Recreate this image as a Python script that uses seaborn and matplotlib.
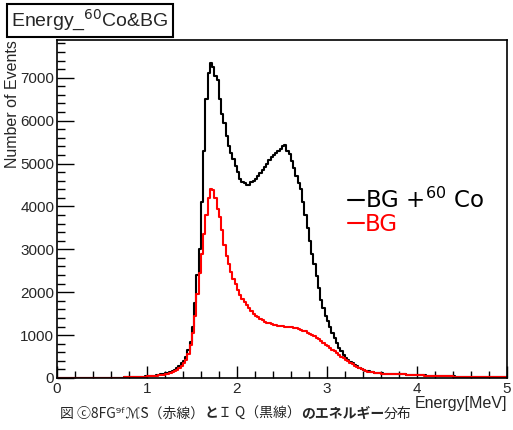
import numpy as np
import pandas as pd
import matplotlib
matplotlib.use("Agg")
import matplotlib.pyplot as plt
import seaborn as sns
from matplotlib.ticker import MultipleLocator

# 200 bins of 0.025 MeV from 0 to 5 MeV, one row = 0.25 MeV
bin_width = 0.025
energy = np.round(np.arange(0.0125, 5.0, bin_width), 4)

# BG + 60Co (black)
bg_co = [0, 0, 0, 1, 1, 1, 1, 2, 2, 2,
         2, 3, 3, 3, 3, 4, 4, 4, 5, 5,
         5, 5, 6, 6, 6, 7, 7, 7, 8, 8,
         13, 14, 16, 18, 20, 23, 26, 29, 32, 36,
         40, 44, 49, 55, 63, 72, 82, 94, 108, 125,
         145, 165, 190, 230, 280, 340, 400, 500, 650, 850,
         1200, 1750, 2400, 3000, 4100, 5300, 6500, 7100, 7350, 7250,
         7050, 6950, 6500, 6150, 5950, 5650, 5400, 5250, 5100, 4950,
         4800, 4650, 4580, 4550, 4500, 4510, 4560, 4600, 4650, 4700,
         4780, 4850, 4930, 5000, 5080, 5150, 5200, 5250, 5300, 5350,
         5400, 5440, 5300, 5220, 5050, 4900, 4700, 4550, 4400, 4100,
         3800, 3500, 3200, 2900, 2650, 2380, 2100, 1820, 1620, 1450,
         1330, 1180, 1050, 940, 820, 710, 620, 540, 470, 425,
         380, 340, 305, 272, 243, 216, 194, 173, 156, 143,
         132, 123, 116, 110, 106, 102, 99, 97, 94, 92,
         90, 88, 86, 84, 82, 80, 77, 74, 71, 68,
         65, 63, 60, 58, 55, 53, 51, 49, 47, 45,
         44, 42, 41, 39, 38, 36, 35, 34, 33, 32,
         32, 31, 30, 29, 28, 27, 26, 25, 24, 24,
         23, 22, 21, 21, 20, 19, 18, 18, 17, 16]

# BG only (red)
bg = [0, 0, 0, 1, 1, 1, 1, 2, 2, 2,
      2, 3, 3, 3, 3, 4, 4, 4, 5, 5,
      5, 5, 6, 6, 6, 7, 7, 7, 8, 8,
      12, 13, 15, 17, 19, 21, 24, 27, 30, 33,
      35, 39, 43, 48, 55, 62, 70, 79, 90, 102,
      115, 135, 160, 190, 230, 280, 340, 430, 560, 760,
      1050, 1450, 1950, 2450, 2900, 3350, 3800, 4200, 4400, 4380,
      4200, 3950, 3750, 3450, 3100, 2850, 2650, 2480, 2300, 2180,
      2050, 1930, 1850, 1770, 1700, 1620, 1560, 1500, 1450, 1410,
      1370, 1340, 1310, 1290, 1270, 1250, 1240, 1230, 1220, 1210,
      1205, 1200, 1195, 1190, 1180, 1170, 1155, 1140, 1125, 1105,
      1085, 1060, 1030, 1000, 970, 935, 900, 860, 820, 780,
      740, 700, 660, 620, 580, 540, 500, 460, 420, 385,
      350, 315, 285, 255, 230, 205, 185, 165, 150, 138,
      128, 120, 114, 108, 104, 101, 98, 96, 93, 91,
      89, 87, 85, 83, 81, 79, 76, 73, 70, 67,
      64, 62, 59, 57, 54, 52, 50, 48, 46, 44,
      43, 41, 40, 38, 37, 35, 34, 33, 32, 31,
      31, 30, 29, 28, 27, 26, 25, 24, 23, 23,
      22, 21, 20, 20, 19, 18, 17, 17, 16, 15]

df = pd.DataFrame({"energy": energy, "bg_co": bg_co, "bg": bg})

sns.set_style("white")
plt.rcParams['font.family'] = ['Liberation Sans', 'DejaVu Sans']

fig = plt.figure(figsize=(5.13, 4.30), dpi=100)
ax = fig.add_axes([0.111, 0.121, 0.877, 0.786])

sns.histplot(data=df, x="energy", weights="bg_co", binwidth=bin_width, binrange=(0, 5),
             element="step", fill=False, color="black", linewidth=1.5, ax=ax,
             label="BG +$^{60}$ Co")
sns.histplot(data=df, x="energy", weights="bg", binwidth=bin_width, binrange=(0, 5),
             element="step", fill=False, color="red", linewidth=1.5, ax=ax,
             label="BG")

ax.set_xlim(0, 5)
ax.set_ylim(0, 7880)
ax.xaxis.set_major_locator(MultipleLocator(1))
ax.xaxis.set_minor_locator(MultipleLocator(0.2))
ax.yaxis.set_major_locator(MultipleLocator(1000))
ax.yaxis.set_minor_locator(MultipleLocator(200))
ax.tick_params(which='both', bottom=True, left=True, top=False, right=False,
               direction='in', color='black', width=1)
ax.tick_params(axis='x', which='major', length=9, labelsize=11, pad=3)
ax.tick_params(axis='x', which='minor', length=5)
ax.tick_params(axis='y', which='major', length=12, labelsize=11, pad=2)
ax.tick_params(axis='y', which='minor', length=6)
for s in ax.spines.values():
    s.set_color("black")
    s.set_linewidth(1.2)

ax.set_xlabel("Energy[MeV]", loc="right", fontsize=11.5, labelpad=0)
ax.set_ylabel("Number of Events", loc="top", fontsize=11.5, labelpad=0)

ax.legend(loc="upper left", bbox_to_anchor=(0.6, 0.625), frameon=False,
          handlelength=0.7, handletextpad=0.05, labelspacing=0.0,
          labelcolor="linecolor", prop={'family': 'DejaVu Sans', 'size': 16.5})

fig.text(0.022, 0.953, "Energy_$^{60}$Co&BG", fontsize=14, ha="left", va="center",
         bbox=dict(boxstyle="square,pad=0.2", fc="white", ec="black", lw=1.5))

# caption, drawn in pieces so the bold parts can be bold
cjk = ['Noto Sans CJK JP', 'DejaVu Sans']
caption = [("図 ⓒ8FG⁹ᶠℳS̃（赤線）", "normal"), ("と", "bold"), ("Ｉ Q（黒線）", "normal"),
           ("のエネルギー", "bold"), ("分布", "normal")]
prev = fig.text(0.117, 0.022, caption[0][0], fontsize=10, ha="left", va="bottom", family=cjk)
for txt, weight in caption[1:]:
    prev = ax.annotate(txt, xy=(1, 0), xycoords=prev, ha="left", va="bottom",
                       fontsize=10, fontweight=weight, family=cjk, annotation_clip=False)

fig.savefig("out.png", dpi=100)
